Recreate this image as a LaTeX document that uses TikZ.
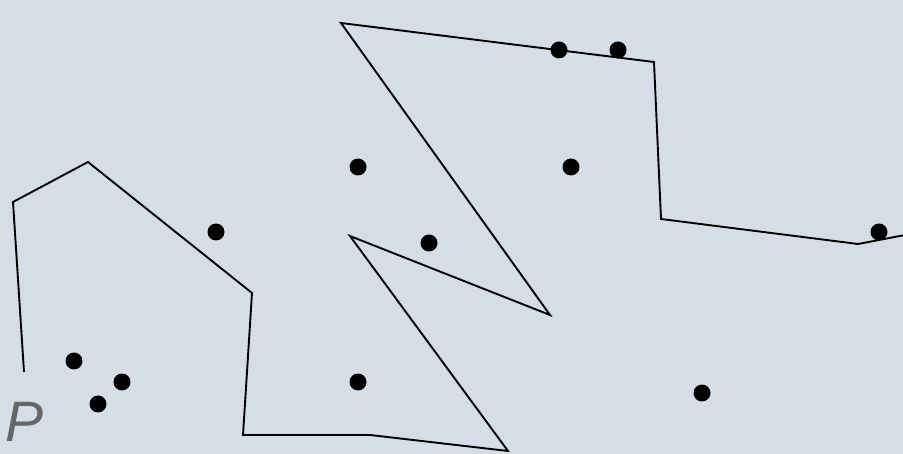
\documentclass[tikz,border=0pt]{standalone}
\usepackage{fontspec}
\setmainfont{Liberation Sans}
\definecolor{bg}{HTML}{D5DEE6}
\definecolor{lbl}{HTML}{666666}
\begin{document}
\begin{tikzpicture}[x=1pt,y=-1pt,
  pt/.style={circle,fill=black,inner sep=0pt,minimum size=17pt},
  edge/.style={draw=black,line width=1.9pt,line join=miter}]
\fill[bg] (0,0) rectangle (903,454);
\useasboundingbox (0,0) rectangle (903,454);
\coordinate (v0) at (24,372);
\coordinate (v1) at (13,202);
\coordinate (v2) at (88,162);
\coordinate (v3) at (252,293);
\coordinate (v4) at (243,435);
\coordinate (v5) at (370,435);
\coordinate (v6) at (508,451);
\coordinate (v7) at (350,236);
\coordinate (v8) at (550,315);
\coordinate (v9) at (341,23);
\coordinate (v10) at (654,62);
\coordinate (v11) at (661,219);
\coordinate (v12) at (858,244);
\coordinate (v13) at (905,235);
\draw[edge] (v0) -- (v1) -- (v2) -- (v3) -- (v4) -- (v5) -- (v6) -- (v7) -- (v8) -- (v9) -- (v10) -- (v11) -- (v12) -- (v13);
\node[pt] (p1) at (74,361) {};
\node[pt] (p2) at (122,382) {};
\node[pt] (p3) at (98,404) {};
\node[pt] (p4) at (216,232) {};
\node[pt] (p5) at (358,167) {};
\node[pt] (p6) at (358,382) {};
\node[pt] (p7) at (429,243) {};
\node[pt] (p8) at (559,50) {};
\node[pt] (p9) at (618,50) {};
\node[pt] (p10) at (571,167) {};
\node[pt] (p11) at (702,393) {};
\node[pt] (p12) at (879,232) {};
\node[anchor=base west,inner sep=0pt,text=lbl,font=\fontsize{57}{57}\selectfont\itshape] (lab) at (5,442) {P};
\end{tikzpicture}
\end{document}
